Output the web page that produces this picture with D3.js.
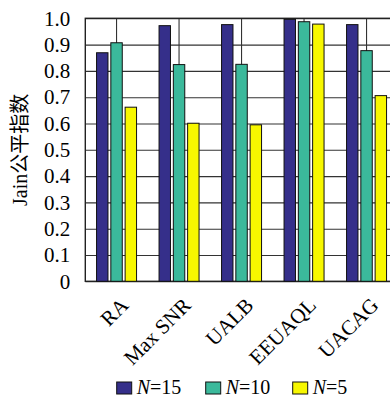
<!DOCTYPE html>
<html>
<head>
<meta charset="utf-8">
<script src="https://cdn.jsdelivr.net/npm/d3@7"></script>
<style>
  html, body { margin: 0; padding: 0; background: #fff; }
  svg { display: block; }
  text { font-family: "Liberation Serif", "Noto Sans CJK SC", serif; fill: #000; }
</style>
</head>
<body>
<svg id="chart" width="390" height="399"></svg>
<script>
// ---- data ----
const categories = ['RA', 'Max SNR', 'UALB', 'EEUAQL', 'UACAG'];
const seriesKeys = ['N15', 'N10', 'N5'];
const seriesNames = ['15', '10', '5'];
const seriesColors = ['#352f8a', '#3bb99b', '#f7f700'];
const valuesN15 = [0.869, 0.972, 0.976, 0.996, 0.976];
const valuesN10 = [0.907, 0.824, 0.825, 0.987, 0.877];
const valuesN5  = [0.662, 0.601, 0.595, 0.978, 0.706];
const yTicks = [0, 0.1, 0.2, 0.3, 0.4, 0.5, 0.6, 0.7, 0.8, 0.9, 1.0];

const seriesValues = [valuesN15, valuesN10, valuesN5];
const rows = categories.map((c, i) => ({
  cat: c,
  vals: seriesKeys.map((k, j) => ({ key: k, value: seriesValues[j][i], color: seriesColors[j] }))
}));

const FONT = '"Liberation Serif", "Noto Sans CJK SC", serif';
const svg = d3.select('#chart');
const m = { t: 18.3, l: 85.3 };
const innerW = 312.5, innerH = 263;

const x0 = d3.scaleBand().domain(categories).range([0, innerW]).padding(0);
const x1 = d3.scaleBand().domain(seriesKeys).range([-20, 20]).paddingInner(0.2);
const y = d3.scaleLinear().domain([0, 1]).range([innerH, 0]);

const g = svg.append('g').attr('transform', `translate(${m.l},${m.t})`);

// grid
g.append('g')
  .call(d3.axisLeft(y).tickValues(yTicks).tickSize(-innerW).tickFormat(''))
  .call(s => s.select('.domain').remove())
  .selectAll('line').attr('stroke', '#333').attr('stroke-width', 1.1);
g.append('g')
  .selectAll('line').data(categories).join('line')
    .attr('x1', d => x0(d) + x0.bandwidth() / 2).attr('x2', d => x0(d) + x0.bandwidth() / 2)
    .attr('y1', 0).attr('y2', innerH)
    .attr('stroke', '#333').attr('stroke-width', 1.1);

// frame
g.append('rect').attr('x', 0).attr('y', 0).attr('width', innerW).attr('height', innerH)
  .attr('fill', 'none').attr('stroke', '#222').attr('stroke-width', 1.4);

// bars
const groups = g.append('g').selectAll('g').data(rows).join('g')
  .attr('transform', d => `translate(${x0(d.cat) + x0.bandwidth() / 2},0)`);
groups.selectAll('rect').data(d => d.vals).join('rect')
  .attr('x', d => x1(d.key))
  .attr('y', d => y(d.value))
  .attr('width', x1.bandwidth())
  .attr('height', d => innerH - y(d.value))
  .attr('fill', d => d.color)
  .attr('stroke', '#111').attr('stroke-width', 1);

// y tick labels
const yAx = g.append('g')
  .call(d3.axisLeft(y).tickValues(yTicks).tickSize(0).tickPadding(15)
    .tickFormat(d => d === 0 ? '0' : d3.format('.1f')(d)));
yAx.select('.domain').remove();
yAx.selectAll('text').style('font-family', FONT).style('font-size', '21px').attr('fill', '#000');

// x labels
const xAx = g.append('g').attr('transform', `translate(0,${innerH})`)
  .call(d3.axisBottom(x0).tickSize(0).tickPadding(0));
xAx.select('.domain').remove();
xAx.selectAll('text')
  .style('font-family', FONT).style('font-size', '21px').attr('fill', '#000')
  .attr('text-anchor', 'end')
  .attr('dy', '0.35em')
  .attr('transform', 'translate(8,20) rotate(-45)');

// y axis title
svg.append('text')
  .attr('transform', `translate(27,${m.t + innerH / 2}) rotate(-90)`)
  .attr('text-anchor', 'middle')
  .style('font-family', FONT)
  .style('font-size', '20px')
  .text('Jain公平指数');

// legend
const legendX = [116.7, 205.7, 292.7];
const lg = svg.append('g');
seriesKeys.forEach((k, i) => {
  const it = lg.append('g').attr('transform', `translate(${legendX[i]},382)`);
  it.append('rect').attr('width', 15).attr('height', 12)
    .attr('fill', seriesColors[i]).attr('stroke', '#111').attr('stroke-width', 1);
  const t = it.append('text').attr('x', 20).attr('y', 12).style('font-family', FONT).style('font-size', '20px');
  t.append('tspan').attr('font-style', 'italic').text('N');
  t.append('tspan').text('=' + seriesNames[i]);
});
</script>
</body>
</html>
